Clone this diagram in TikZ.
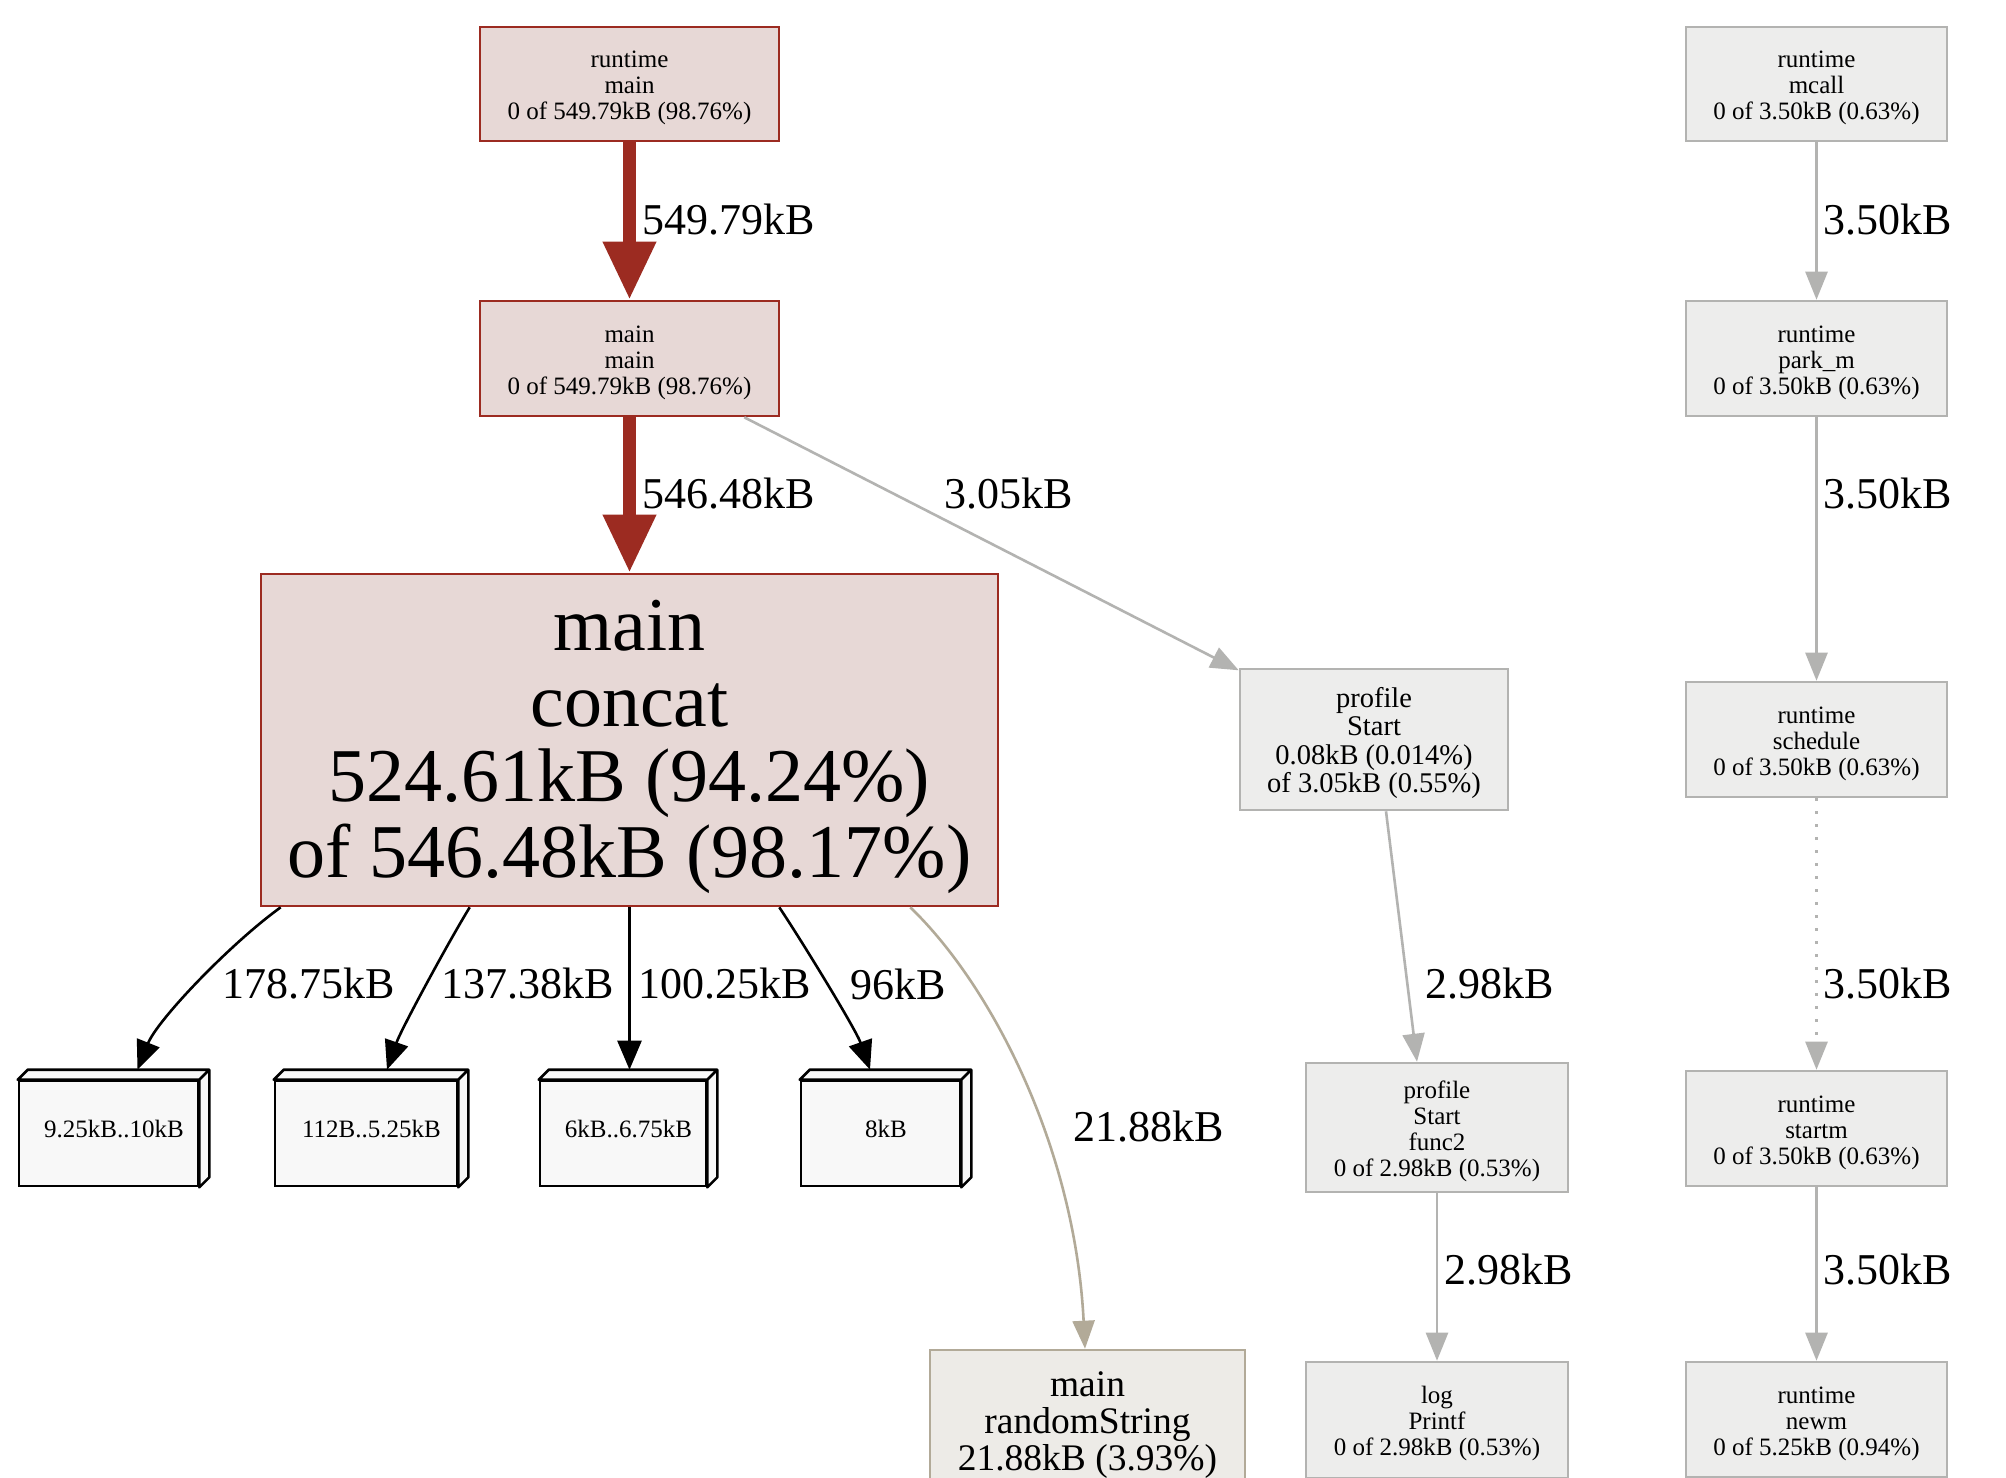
\documentclass[tikz,border=0pt]{standalone}
\usepackage{fontspec}
\setmainfont{Liberation Serif}
\usetikzlibrary{arrows.meta,positioning}

\definecolor{hotfill}{HTML}{E7D8D6}
\definecolor{hotline}{HTML}{9C2B21}
\definecolor{coldfill}{HTML}{EDEDEC}
\definecolor{coldline}{HTML}{B3B3B1}
\definecolor{tanfill}{HTML}{EDEBE7}
\definecolor{tanline}{HTML}{B2AA98}
\definecolor{leaffill}{HTML}{F8F8F8}

% strut on the first line of a node, pushes the text block down a bit
\newcommand{\toppad}[1][1em]{\rule{0pt}{#1}}

\begin{document}
\begin{tikzpicture}[
    x=1pt, y=-1pt,
    fn/.style={draw, rectangle, line width=2.6pt, align=center, inner sep=0pt, font=\fontsize{25}{26}\selectfont},
    hot/.style={fn, draw=hotline, fill=hotfill},
    cold/.style={fn, draw=coldline, fill=coldfill},
    leaf/.style={draw=black, fill=leaffill, line width=2.6pt, inner sep=0pt, minimum height=105pt, font=\fontsize{25}{26}\selectfont,
        execute at begin node={\hspace*{11pt}\rule[-10pt]{0pt}{10pt}}},
    lbl/.style={anchor=west, inner sep=0pt, text=black, font=\fontsize{44}{44}\selectfont},
    hotedge/.style={hotline, line width=13pt, -{Triangle[length=58pt,width=50pt]}},
    coldedge/.style={coldline, line width=2.6pt, -{Triangle[length=28pt,width=22pt]}},
    leafedge/.style={black, line width=2.6pt, -{Triangle[length=29pt,width=24pt]}}
]
\path[use as bounding box, fill=white] (0,0) rectangle (2006,1478);

% main call chain
\node[hot, minimum width=299pt, minimum height=114pt] (rtmain) at (629.5,84) {\toppad runtime\\main\\0 of 549.79kB (98.76\%)};
\node[hot, minimum width=299pt, minimum height=115pt] (mainmain) at (629.5,358.5) {\toppad main\\main\\0 of 549.79kB (98.76\%)};
\node[hot, minimum width=737pt, minimum height=332pt, font=\fontsize{76}{75.5}\selectfont] (concat) at (629.5,740) {\toppad[0.84em]main\\concat\\524.61kB (94.24\%)\\of 546.48kB (98.17\%)};
\node[fn, draw=tanline, fill=tanfill, minimum width=315pt, minimum height=144pt, font=\fontsize{37.5}{37}\selectfont] (randstr) at (1087.5,1422) {\toppad[0.82em]main\\randomString\\21.88kB (3.93\%)};

% allocation sizes
\node[leaf, minimum width=179pt] (b1) at (108.5,1133.5) {9.25kB..10kB};
\node[leaf, minimum width=182pt] (b2) at (366,1133.5) {112B..5.25kB};
\node[leaf, minimum width=166pt] (b3) at (623,1133.5) {6kB..6.75kB};
\node[leaf, minimum width=159pt] (b4) at (880.5,1133.5) {8kB};
\foreach \b in {b1,b2,b3,b4}
  \draw[line width=2.6pt, fill=leaffill, line join=round]
    (\b.north west) -- ++(10,-10) -- ([shift={(10,-10)}]\b.north east)
    -- ([shift={(10,-10)}]\b.south east) -- (\b.south east) -- (\b.north east) -- cycle
    (\b.north east) -- ++(10,-10);

% profile
\node[cold, minimum width=268pt, minimum height=141pt, font=\fontsize{28.5}{28.6}\selectfont] (pstart) at (1374,739.5) {\toppad[0.95em]profile\\Start\\0.08kB (0.014\%)\\of 3.05kB (0.55\%)};
\node[cold, minimum width=262pt, minimum height=129pt] (func2) at (1437,1127.5) {\toppad profile\\Start\\func2\\0 of 2.98kB (0.53\%)};
\node[cold, minimum width=262pt, minimum height=116pt] (printf) at (1437,1420) {\toppad log\\Printf\\0 of 2.98kB (0.53\%)};

% runtime column
\node[cold, minimum width=261pt, minimum height=114pt] (mcall) at (1816.5,84) {\toppad runtime\\mcall\\0 of 3.50kB (0.63\%)};
\node[cold, minimum width=261pt, minimum height=115pt] (parkm) at (1816.5,358.5) {\toppad runtime\\park\_m\\0 of 3.50kB (0.63\%)};
\node[cold, minimum width=261pt, minimum height=115pt] (sched) at (1816.5,739.5) {\toppad runtime\\schedule\\0 of 3.50kB (0.63\%)};
\node[cold, minimum width=261pt, minimum height=115pt] (startm) at (1816.5,1128.5) {\toppad runtime\\startm\\0 of 3.50kB (0.63\%)};
\node[cold, minimum width=261pt, minimum height=115pt] (newm) at (1816.5,1419.5) {\toppad runtime\\newm\\0 of 5.25kB (0.94\%)};

% edges
\draw[hotedge] (rtmain) -- (mainmain) node[lbl] at (636,220) {549.79kB};
\draw[hotedge] (mainmain) -- (concat) node[lbl] at (636,494) {546.48kB};
\draw[coldedge] (mainmain) -- (pstart) node[lbl] at (943,494) {3.05kB};

\draw[leafedge] ([xshift=21pt]concat.south west) .. controls +(-50,36) and +(20,-50) .. ([xshift=29pt,yshift=10pt]b1.north) node[lbl] at (221,984) {178.75kB};
\draw[leafedge] ([xshift=210pt]concat.south west) .. controls +(-22,36) and +(14,-40) .. ([xshift=21pt,yshift=10pt]b2.north) node[lbl] at (440,984) {137.38kB};
\draw[leafedge] (concat.south) -- ([xshift=6.5pt,yshift=10pt]b3.north) node[lbl] at (637,984) {100.25kB};
\draw[leafedge] ([xshift=-220pt]concat.south east) .. controls +(24,36) and +(-14,-40) .. ([xshift=-10.5pt,yshift=10pt]b4.north) node[lbl] at (849,984) {96kB};
\draw[tanline, line width=2.6pt, -{Triangle[length=28pt,width=22pt]}] ([xshift=-89pt]concat.south east) .. controls +(82,79) and +(-10,-200) .. ([xshift=-2.5pt]randstr.north) node[lbl] at (1072,1127) {21.88kB};

\draw[coldedge] ([xshift=12pt]pstart.south) -- ([xshift=-20pt]func2.north) node[lbl] at (1424,984) {2.98kB};
\draw[coldedge] (func2) -- (printf) node[lbl] at (1443,1270) {2.98kB};

\draw[coldedge] (mcall) -- (parkm) node[lbl] at (1822,220) {3.50kB};
\draw[coldedge] (parkm) -- (sched) node[lbl] at (1822,494) {3.50kB};
\draw[coldedge, dash pattern=on 3pt off 10pt] (sched) -- (startm) node[lbl] at (1822,984) {3.50kB};
\draw[coldedge] (startm) -- (newm) node[lbl] at (1822,1270) {3.50kB};
\end{tikzpicture}
\end{document}
